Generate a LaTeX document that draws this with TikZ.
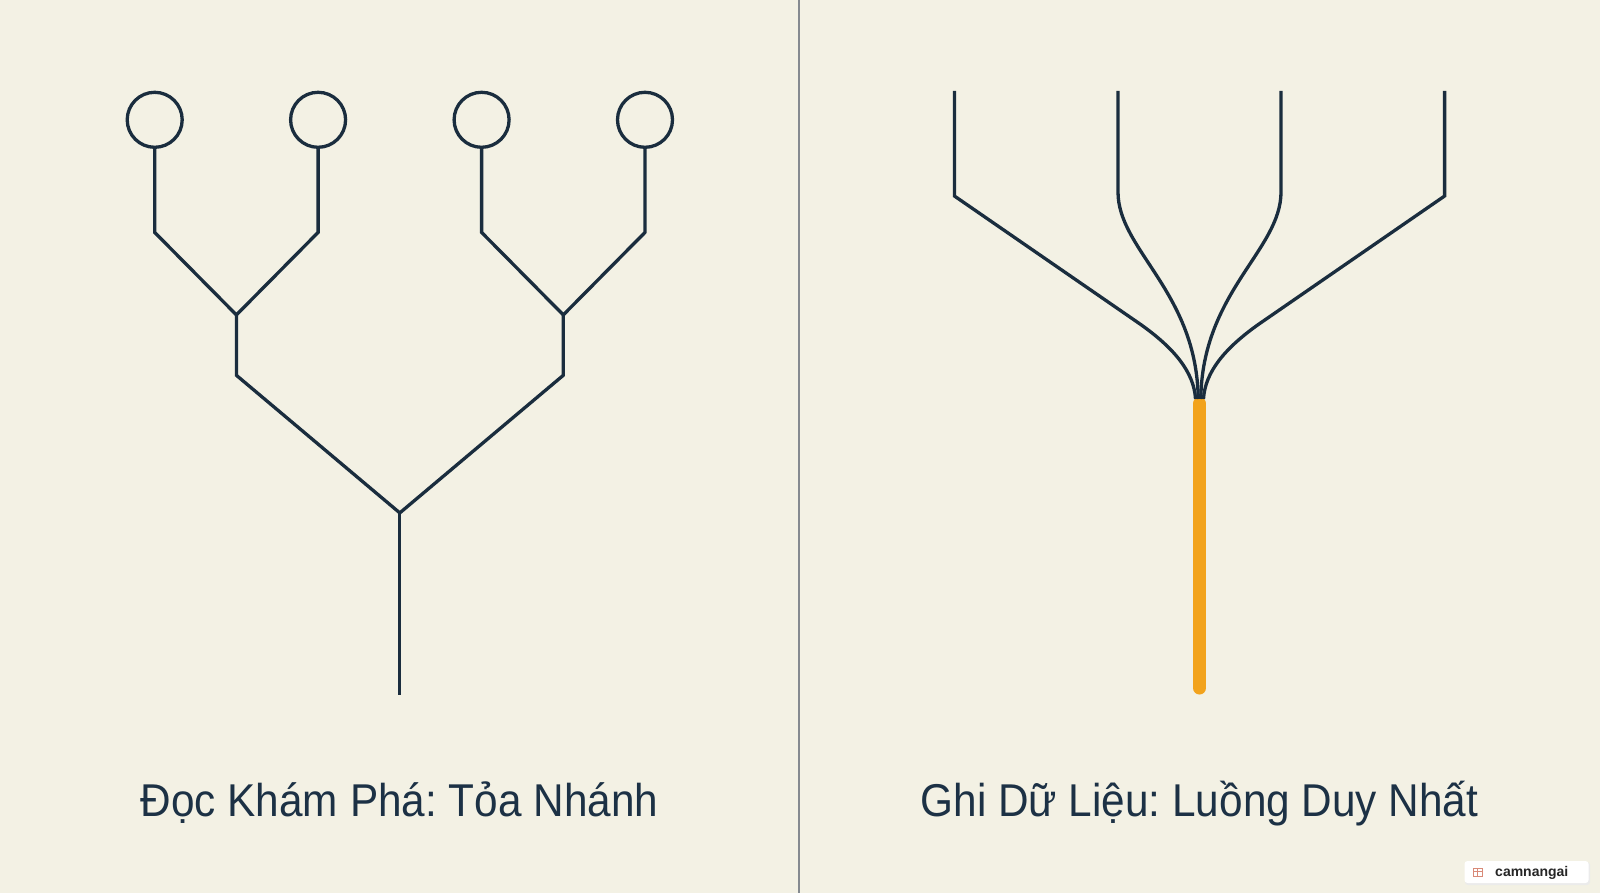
\documentclass[tikz,border=0pt]{standalone}
\usepackage{fontspec}
\setmainfont{Liberation Sans}
\newfontfamily\capfont[FakeStretch=0.92]{Liberation Sans}
\newfontfamily\wmfont{Liberation Sans}
\definecolor{bg}{HTML}{F3F1E4}
\definecolor{navy}{HTML}{1A2D3E}
\definecolor{amber}{HTML}{F2A31C}
\definecolor{divider}{HTML}{858A90}
\definecolor{txt}{HTML}{1C3145}
\definecolor{bookred}{HTML}{D98A78}
\frenchspacing
\begin{document}
\begin{tikzpicture}[x=1pt,y=-1pt,
  branch/.style={draw=navy, line width=3.3pt, line join=miter},
  leaf/.style={circle, draw=navy, line width=3.3pt, minimum size=55pt, inner sep=0pt},
  caption/.style={text=txt, anchor=base, inner sep=0pt, font=\capfont\fontsize{46}{52}\selectfont},
  stream/.style={draw=amber, line width=13pt, line cap=round}]
\fill[bg] (0,0) rectangle (1600,893);
\useasboundingbox (0,0) rectangle (1600,893);

% divider
\coordinate (dtop) at (799,0);
\coordinate (dbot) at (799,893);
\draw[divider, line width=1.5pt] (dtop) -- (dbot);

% ---------- left tree ----------
\node[leaf] (l1) at (154.7,119.8) {};
\node[leaf] (l2) at (318.1,119.8) {};
\node[leaf] (l3) at (481.6,119.8) {};
\node[leaf] (l4) at (645.0,119.8) {};
\coordinate (s1) at (154.7,232.4);
\coordinate (s2) at (318.1,232.4);
\coordinate (s3) at (481.6,232.4);
\coordinate (s4) at (645.0,232.4);
\coordinate (ja) at (236.4,314.9);
\coordinate (jb) at (563.3,314.9);
\coordinate (ka) at (236.4,375.3);
\coordinate (kb) at (563.3,375.3);
\coordinate (root) at (399.8,512.9);
\coordinate (base) at (399.8,694.5);
\draw[branch] (l1.south) -- (s1) -- (ja) -- (s2) -- (l2.south);
\draw[branch] (l3.south) -- (s3) -- (jb) -- (s4) -- (l4.south);
\draw[branch] (ja) -- (ka) -- (root) -- (kb) -- (jb);
\draw[branch] (root) -- (base);

% ---------- right tree ----------
\coordinate (hubtop) at (1199.5,403.5);
\coordinate (foot) at (1199.5,688);
\draw[stream] (hubtop) -- (foot);
\coordinate (h1) at (1195.5,399);
\coordinate (h2) at (1198.2,399);
\coordinate (h3) at (1200.8,399);
\coordinate (h4) at (1203.5,399);
\coordinate (t1) at (954.4,91);
\coordinate (t2) at (1118.0,91);
\coordinate (t3) at (1281.0,91);
\coordinate (t4) at (1444.6,91);
\coordinate (c1) at (954.4,196);
\coordinate (c2) at (1118.0,192);
\coordinate (c3) at (1281.0,192);
\coordinate (c4) at (1444.6,196);
\coordinate (d1) at (1140,324);
\coordinate (d4) at (1259,324);
\draw[branch] (t1) -- (c1) -- (d1) .. controls (1174,348) and (1194,372) .. (h1);
\draw[branch] (t4) -- (c4) -- (d4) .. controls (1225,348) and (1205,372) .. (h4);
\draw[branch] (t2) -- (c2) .. controls (1118,250) and (1197,292) .. (h2);
\draw[branch] (t3) -- (c3) .. controls (1281,250) and (1202,292) .. (h3);

% ---------- captions ----------
\node[caption] (ltitle) at (399.5,816.5) {Đọc Khám Phá: Tỏa Nhánh};
\node[caption] (rtitle) at (1199.5,816.5) {Ghi Dữ Liệu: Luồng Duy Nhất};

% ---------- watermark ----------
\fill[black!8, rounded corners=3pt] (1465,862) rectangle (1590,885);
\node[fill=white, rounded corners=3pt, minimum width=124pt, minimum height=22pt, inner sep=0pt] (wm) at (1526.5,872) {};
\draw[bookred, line width=0.8pt] (1473,868) rectangle (1482,876);
\draw[bookred, line width=0.8pt] (1477.5,868) -- (1477.5,876);
\draw[bookred, line width=0.6pt] (1473,871.5) -- (1482,871.5);
\node[anchor=base west, inner sep=0pt, font=\wmfont\bfseries\fontsize{14}{16}\selectfont, text=black!85] (wmtext) at (1495,876.5) {camnangai};
\end{tikzpicture}
\end{document}
